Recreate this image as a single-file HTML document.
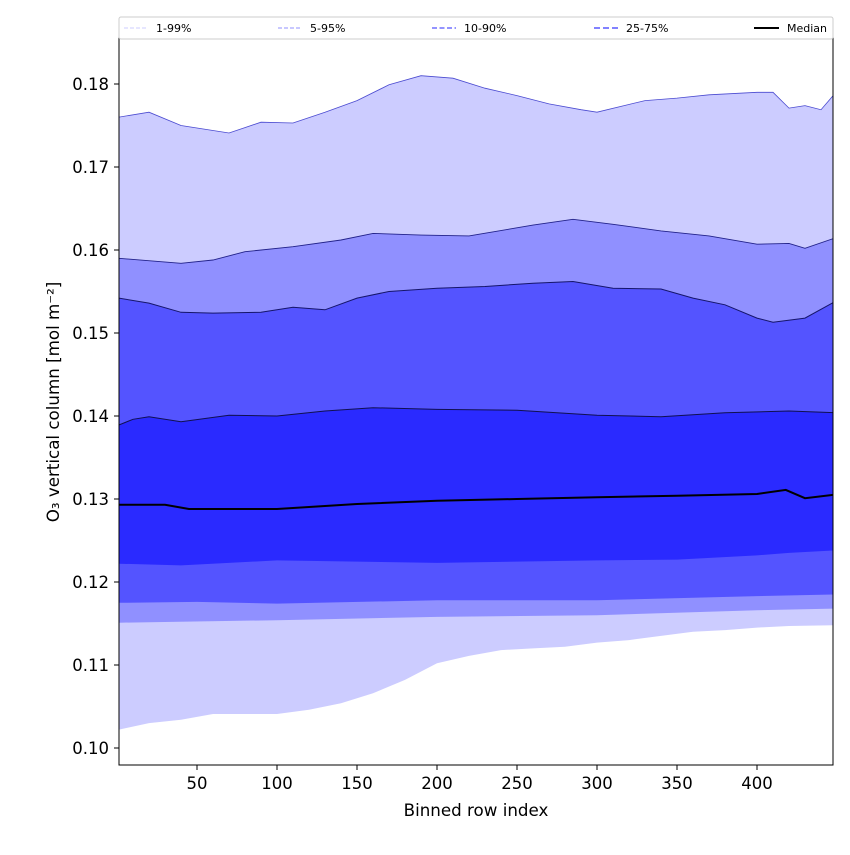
<!DOCTYPE html>
<html><head><meta charset="utf-8"><style>
body{margin:0;background:#fff}
svg text{font-family:"DejaVu Sans","Liberation Sans",sans-serif;fill:#000}
</style></head><body>
<svg id="chart" width="850" height="850" xmlns="http://www.w3.org/2000/svg">
<rect width="850" height="850" fill="#fff"/>
<g id="bands"></g>
<g id="axes"></g>
</svg>
<script>
const xTicks=[50,100,150,200,250,300,350,400];
const yTicks=[0.10,0.11,0.12,0.13,0.14,0.15,0.16,0.17,0.18];
const yTickLabels=["0.10","0.11","0.12","0.13","0.14","0.15","0.16","0.17","0.18"];
const p99x=[1,20,40,50,70,90,110,130,150,170,190,210,230,250,270,290,300,330,350,370,400,410,420,430,440,448];
const p99y=[0.176,0.1766,0.175,0.1747,0.1741,0.1754,0.1753,0.1766,0.178,0.1799,0.181,0.1807,0.1795,0.1786,0.1776,0.1769,0.1766,0.178,0.1783,0.1787,0.179,0.179,0.1771,0.1774,0.1769,0.1787];
const p95x=[1,40,60,80,110,140,160,190,220,260,285,310,340,370,400,420,430,448];
const p95y=[0.159,0.1584,0.1588,0.1598,0.1604,0.1612,0.162,0.1618,0.1617,0.163,0.1637,0.1631,0.1623,0.1617,0.1607,0.1608,0.1602,0.1614];
const p90x=[1,20,40,60,90,110,130,150,170,200,230,260,285,310,340,360,380,400,410,430,448];
const p90y=[0.1542,0.1536,0.1525,0.1524,0.1525,0.1531,0.1528,0.1542,0.155,0.1554,0.1556,0.156,0.1562,0.1554,0.1553,0.1542,0.1534,0.1518,0.1513,0.1518,0.1537];
const p75x=[1,10,20,40,70,100,130,160,200,250,300,340,380,420,448];
const p75y=[0.1389,0.1396,0.1399,0.1393,0.1401,0.14,0.1406,0.141,0.1408,0.1407,0.1401,0.1399,0.1404,0.1406,0.1404];
const medx=[1,30,45,100,150,200,250,300,350,400,418,430,448];
const medy=[0.1293,0.1293,0.1288,0.1288,0.1294,0.1298,0.13,0.1302,0.1304,0.1306,0.1311,0.1301,0.1305];
const p25x=[1,40,100,200,300,350,400,420,448];
const p25y=[0.1222,0.122,0.1226,0.1223,0.1226,0.1227,0.1232,0.1235,0.1238];
const p10x=[1,50,100,200,300,400,448];
const p10y=[0.1175,0.1176,0.1174,0.1178,0.1178,0.1183,0.1185];
const p5x=[1,100,200,300,400,448];
const p5y=[0.1151,0.1154,0.1158,0.116,0.1166,0.1168];
const p1x=[1,20,40,60,80,100,120,140,160,180,200,220,240,260,280,300,320,340,360,380,400,420,448];
const p1y=[0.1022,0.103,0.1034,0.1041,0.1041,0.1041,0.1046,0.1054,0.1066,0.1082,0.1102,0.1111,0.1118,0.112,0.1122,0.1127,0.113,0.1135,0.114,0.1142,0.1145,0.1147,0.1148];

const L=119,R=833,T=38,B=765;
const X=v=>117+(v-0)*1.6;
const Y=v=>84+(0.18-v)*8300;
const NS="http://www.w3.org/2000/svg";
function mk(tag,attrs,parent){const e=document.createElementNS(NS,tag);for(const k in attrs)e.setAttribute(k,attrs[k]);parent.appendChild(e);return e;}
function pts(xs,ys){return xs.map((x,i)=>X(x).toFixed(1)+","+Y(ys[i]).toFixed(1));}
const bands=document.getElementById('bands');
const axes=document.getElementById('axes');
const cp=mk('clipPath',{id:'clip'},bands);
mk('rect',{x:L,y:T,width:R-L,height:B-T},cp);
const g=mk('g',{'clip-path':'url(#clip)'},bands);
function band(ux,uy,lx,ly,color,name){
  const up=pts(ux,uy), lo=pts(lx,ly).reverse();
  const p=mk('polygon',{points:up.concat(lo).join(' '),fill:color},g);
  
  
}
band(p99x,p99y,p1x,p1y,'#ccccff','band-1-99');
band(p95x,p95y,p5x,p5y,'#9090ff','band-5-95');
band(p90x,p90y,p10x,p10y,'#5454ff','band-10-90');
band(p75x,p75y,p25x,p25y,'#2a2aff','band-25-75');
function line(xs,ys,color,w,name){
  const p=mk('polyline',{points:pts(xs,ys).join(' '),fill:'none',stroke:color,'stroke-width':w},g);
  
  
}
line(p99x,p99y,'#4a4ad0',0.8,'line-p99');
line(p95x,p95y,'#22228a',0.9,'line-p95');
line(p90x,p90y,'#15156a',1,'line-p90');
line(p75x,p75y,'#101050',1,'line-p75');
line(medx,medy,'#000',2,'median-line');
const fr=mk('rect',{x:L,y:T,width:R-L,height:B-T,fill:'none',stroke:'#000','stroke-width':1},axes);

xTicks.forEach(v=>{
  mk('line',{x1:X(v),x2:X(v),y1:B,y2:B+5,stroke:'#000'},axes);
  const t=mk('text',{x:X(v),y:B+24,'text-anchor':'middle','font-size':16.5},axes);
  t.textContent=v;
  
});
yTicks.forEach((v,i)=>{
  mk('line',{x1:L-5,x2:L,y1:Y(v),y2:Y(v),stroke:'#000'},axes);
  const t=mk('text',{x:L-10,y:Y(v)+6,'text-anchor':'end','font-size':16.5},axes);
  t.textContent=yTickLabels[i];
  
});
</script>
<svg style="position:absolute;left:0;top:0" width="850" height="850">
<text x="476" y="816" text-anchor="middle" font-size="16.7">Binned row index</text>
<text x="59" y="402" text-anchor="middle" font-size="16.7" transform="rotate(-90 59 402)">O₃ vertical column [mol m⁻²]</text>
<g>
<rect x="119" y="17" width="714" height="22" fill="#fff" stroke="#ccc" stroke-width="1" rx="2"/>
<line x1="124" x2="148" y1="28" y2="28" stroke="#ccccff" stroke-width="1" stroke-dasharray="4,2"/>
<text x="156" y="32" font-size="11">1-99%</text>
<line x1="278" x2="302" y1="28" y2="28" stroke="#9090ff" stroke-width="1" stroke-dasharray="4,2"/>
<text x="310" y="32" font-size="11">5-95%</text>
<line x1="432" x2="456" y1="28" y2="28" stroke="#5454ff" stroke-width="1.2" stroke-dasharray="5,2.5"/>
<text x="464" y="32" font-size="11">10-90%</text>
<line x1="594" x2="618" y1="28" y2="28" stroke="#7070ff" stroke-width="1.8" stroke-dasharray="6,3"/>
<text x="626" y="32" font-size="11">25-75%</text>
<line x1="754" x2="779" y1="28" y2="28" stroke="#000" stroke-width="2"/>
<text x="787" y="32" font-size="11">Median</text>
</g>
</svg>
</body></html>
